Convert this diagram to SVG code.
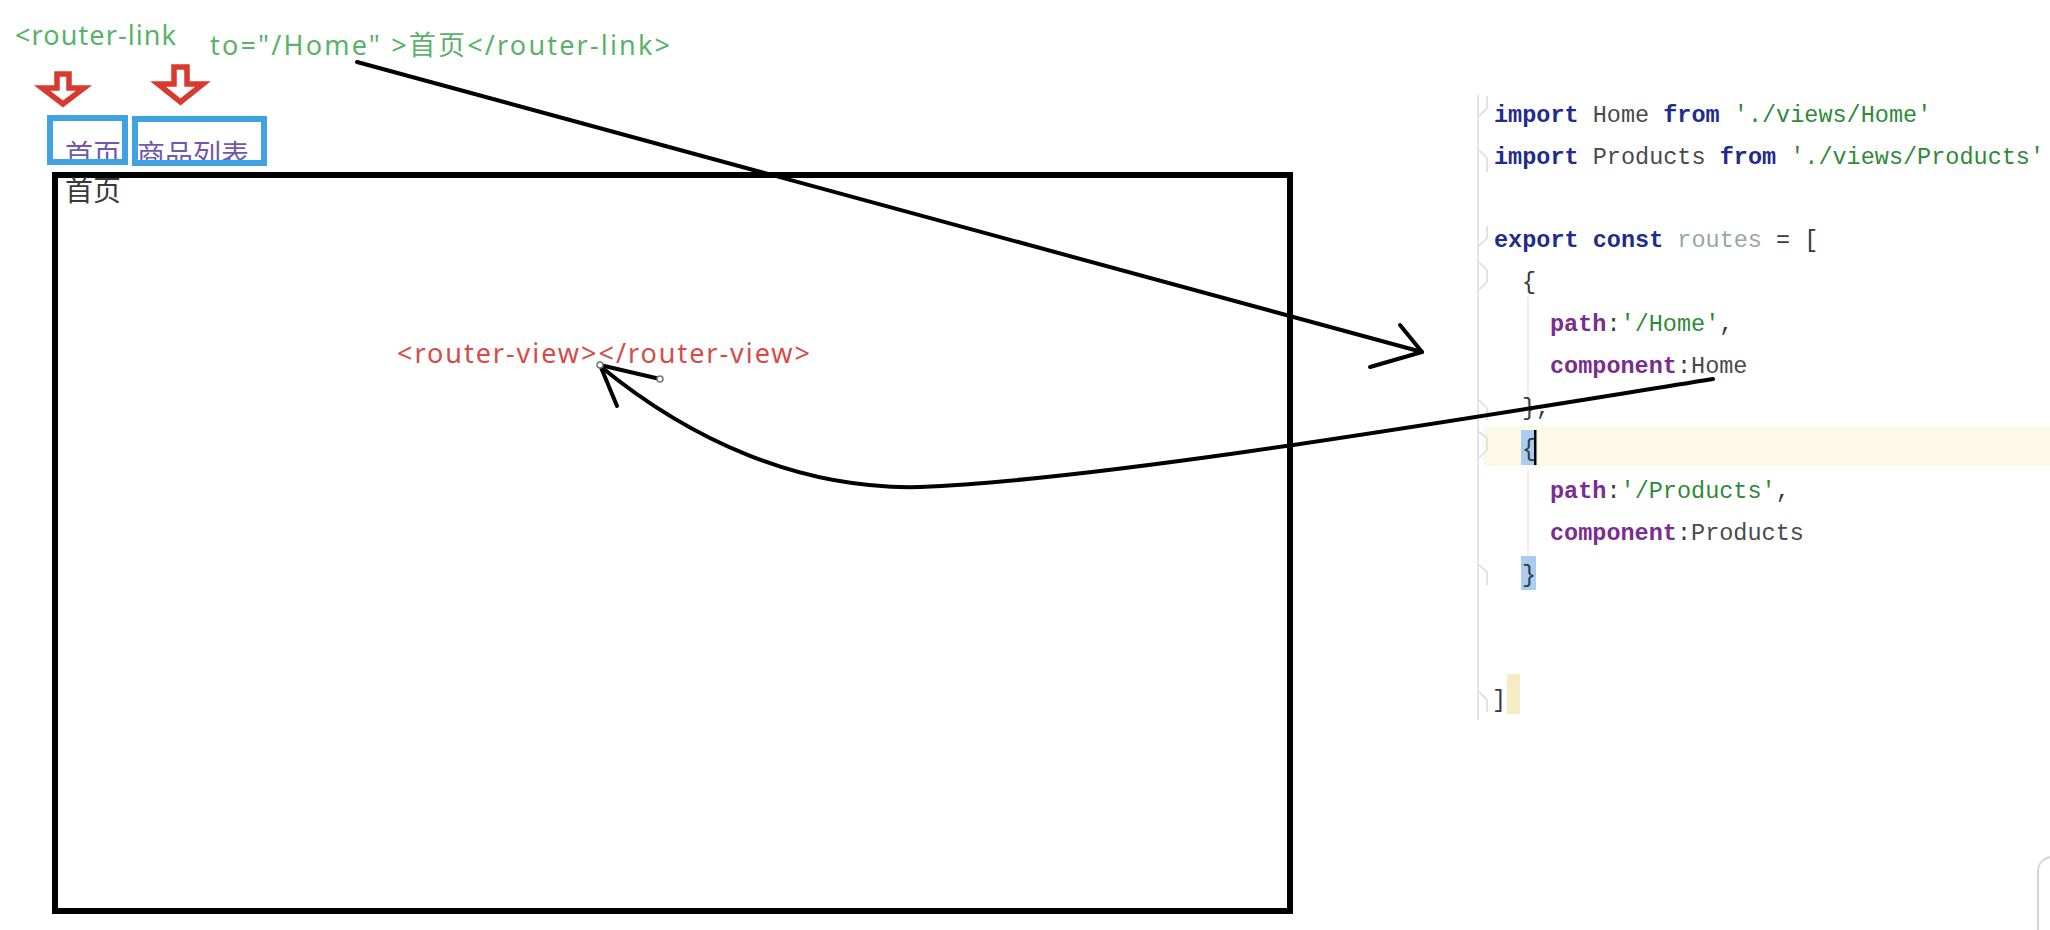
<svg xmlns="http://www.w3.org/2000/svg" width="2050" height="930" viewBox="0 0 2050 930">
  <style>
    .lbl { font-family: "Noto Sans", "Noto Sans CJK SC", sans-serif; }
    .green { fill: #58b368; font-size: 27px; }
    .tabtxt { font-family: "Noto Sans CJK SC", sans-serif; font-size: 28px; fill: #7157b0; }
    .redarrow { fill: #ffffff; stroke: #d93a2f; stroke-width: 5.5; stroke-linejoin: miter; }
    .tab { fill: none; stroke: #41a2e3; stroke-width: 6; }
    .code { font-family: "Liberation Mono", "DejaVu Sans Mono", monospace; font-size: 23.5px; fill: #3a3a3a; }
    .kw { fill: #1f2c8c; font-weight: bold; }
    .id { fill: #4a4a4a; }
    .str { fill: #2f8a37; }
    .prop { fill: #7a2d8f; font-weight: bold; }
    .var { fill: #9aa6a6; }
    .gut { fill: none; stroke: #dcdcdc; stroke-width: 1.6; }
    .conn { fill: none; stroke: #000000; stroke-width: 4; stroke-linecap: round; stroke-linejoin: round; }
    .handle { fill: #ffffff; stroke: #777777; stroke-width: 1.5; }
  </style>
  <defs>
    <clipPath id="clipTab1"><rect x="47" y="115" width="81" height="47"/></clipPath>
    <clipPath id="clipTab2"><rect x="132" y="116" width="135" height="46"/></clipPath>
  </defs>
  <rect x="0" y="0" width="2050" height="930" fill="#ffffff"/>

  <g id="router-link-label">
    <text class="lbl green" x="15" y="45" textLength="161" lengthAdjust="spacing">&lt;router-link</text>
    <text class="lbl green" x="210" y="55" textLength="460" lengthAdjust="spacing">to=&quot;/Home&quot; &gt;首页&lt;/router-link&gt;</text>
  </g>

  <g id="red-arrows">
    <path class="redarrow" d="M57,74 L69,74 L69,88 L84,88 L63,104 L42,88 L57,88 Z"/>
    <path class="redarrow" d="M174,67 L187,67 L187,84 L203,84 L180.5,102 L158,84 L174,84 Z"/>
  </g>

  <g id="tab-home">
    <text class="tabtxt" x="65" y="165" clip-path="url(#clipTab1)">首页</text>
    <rect class="tab" x="50" y="118" width="75" height="44"/>
  </g>
  <g id="tab-products">
    <text class="tabtxt" x="137" y="165" clip-path="url(#clipTab2)">商品列表</text>
    <rect class="tab" x="135" y="119" width="129" height="44"/>
  </g>

  <g id="view-frame">
    <rect x="55" y="175" width="1235" height="736" fill="none" stroke="#000000" stroke-width="6"/>
    <text x="65" y="201" font-family="Noto Sans CJK SC, sans-serif" font-size="28" fill="#3a3a3a">首页</text>
  </g>

  <g id="router-view">
    <text class="lbl" x="397" y="363" font-size="27" fill="#d64c48" textLength="413" lengthAdjust="spacing">&lt;router-view&gt;&lt;/router-view&gt;</text>
  </g>

  <g id="code-panel">
    <rect x="1483" y="426" width="567" height="40" fill="#fcfae6"/>
    <rect x="1521" y="430" width="15" height="35" fill="#a9cdf2"/>
    <rect x="1521" y="556" width="15" height="34" fill="#a9cdf2"/>
    <rect x="1507" y="674" width="13" height="40" fill="#f3ecc4"/>
    <path class="gut" d="M1478,95 L1478,720"/>
    <path class="gut" d="M1487,96 L1487,108 L1479,116 M1479,150 L1487,158 L1487,172 M1487,226 L1487,238 L1479,246 M1479,262 L1487,270 L1487,282 L1479,290 M1479,400 L1487,408 L1487,420 M1479,432 L1487,438 L1487,450 L1479,458 M1479,565 L1487,572 L1487,585 M1479,692 L1487,700 L1487,712"/>
    <path d="M1528,296 L1528,404 M1528,470 L1528,556" stroke="#e9e9e9" stroke-width="1.5" fill="none"/>
    <text class="code" x="1494" y="122"><tspan class="kw">import</tspan> <tspan class="id">Home</tspan> <tspan class="kw">from</tspan> <tspan class="str">'./views/Home'</tspan></text>
    <text class="code" x="1494" y="164"><tspan class="kw">import</tspan> <tspan class="id">Products</tspan> <tspan class="kw">from</tspan> <tspan class="str">'./views/Products'</tspan></text>
    <text class="code" x="1494" y="247"><tspan class="kw">export</tspan> <tspan class="kw">const</tspan> <tspan class="var">routes</tspan> = [</text>
    <text class="code" x="1522" y="289">{</text>
    <text class="code" x="1550" y="331"><tspan class="prop">path</tspan>:<tspan class="str">'/Home'</tspan>,</text>
    <text class="code" x="1550" y="373"><tspan class="prop">component</tspan>:<tspan class="id">Home</tspan></text>
    <text class="code" x="1522" y="415">},</text>
    <text class="code" x="1522" y="456">{</text>
    <rect x="1534" y="430" width="2.5" height="35" fill="#000000"/>
    <text class="code" x="1550" y="498"><tspan class="prop">path</tspan>:<tspan class="str">'/Products'</tspan>,</text>
    <text class="code" x="1550" y="540"><tspan class="prop">component</tspan>:<tspan class="id">Products</tspan></text>
    <text class="code" x="1522" y="582">}</text>
    <text class="code" x="1492" y="707">]</text>
  </g>

  <g id="scroll-corner">
    <rect x="2038" y="857" width="40" height="100" rx="14" fill="#ffffff" stroke="#d6d6d6" stroke-width="2"/>
  </g>

  <g id="connectors">
    <path class="conn" d="M357,62 L1422,352"/>
    <path class="conn" d="M1400,325 L1422,352 L1370,367"/>
    <path class="conn" d="M1713,379 C1450,421 1100,480 920,487 C800,490 690,440 600,366"/>
    <path class="conn" d="M660,379 L600,365 L617,406"/>
    <circle class="handle" cx="600" cy="365" r="3"/>
    <circle class="handle" cx="660" cy="379" r="3"/>
  </g>
</svg>
